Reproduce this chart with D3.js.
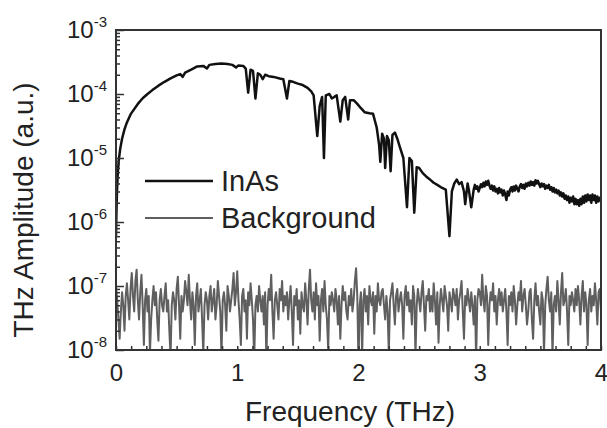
<!DOCTYPE html>
<html>
<head>
<meta charset="utf-8">
<script src="https://cdn.jsdelivr.net/npm/d3@7"></script>
<style>
  body { margin: 0; background: #fff; }
  svg { display: block; font-family: "Liberation Sans", Arial, sans-serif; }
</style>
</head>
<body>
<svg id="chart" width="607" height="428"></svg>
<script>
// InAs spectrum, 0 - 2.93 THz (frequency in THz, amplitude in a.u.)
const inasFreq = [
  0.000, 0.004, 0.008, 0.015, 0.025, 0.035, 0.05, 0.07, 0.09, 0.12,
  0.15, 0.18, 0.22, 0.26, 0.30, 0.35, 0.40, 0.45, 0.50, 0.53,
  0.55, 0.57, 0.62, 0.67, 0.72, 0.75, 0.77, 0.82, 0.87, 0.92,
  0.96, 0.99, 1.01, 1.05, 1.07, 1.09, 1.11, 1.13, 1.15, 1.17,
  1.19, 1.21, 1.23, 1.26, 1.30, 1.35, 1.38, 1.41, 1.43, 1.46,
  1.50, 1.54, 1.58, 1.61, 1.63, 1.66, 1.68, 1.70, 1.715, 1.73,
  1.76, 1.78, 1.80, 1.82, 1.85, 1.87, 1.89, 1.915, 1.93, 1.96,
  1.99, 2.02, 2.05, 2.09, 2.12, 2.15, 2.17, 2.18, 2.195, 2.21,
  2.22, 2.235, 2.25, 2.265, 2.28, 2.30, 2.32, 2.34, 2.37, 2.40,
  2.42, 2.44, 2.46, 2.48, 2.50, 2.53, 2.56, 2.59, 2.62, 2.65,
  2.69, 2.72, 2.75, 2.77, 2.79, 2.81, 2.83, 2.85, 2.87, 2.88,
  2.90, 2.91, 2.93
];
const inasAmp = [
  6e-7, 1.5e-6, 3e-6, 6e-6, 1.0e-5, 1.4e-5, 2.0e-5, 2.8e-5, 3.6e-5, 4.8e-5,
  5.8e-5, 7.0e-5, 8.6e-5, 1.0e-4, 1.15e-4, 1.35e-4, 1.55e-4, 1.75e-4, 1.95e-4, 2.05e-4,
  1.85e-4, 2.15e-4, 2.4e-4, 2.7e-4, 2.75e-4, 2.5e-4, 2.85e-4, 2.95e-4, 3.0e-4, 2.95e-4,
  2.85e-4, 2.6e-4, 2.8e-4, 2.75e-4, 2.5e-4, 1.05e-4, 2.4e-4, 2.3e-4, 8.5e-5, 2.1e-4,
  2.0e-4, 1.7e-4, 2.0e-4, 1.9e-4, 1.85e-4, 1.75e-4, 1.7e-4, 8.5e-5, 1.6e-4, 1.55e-4,
  1.45e-4, 1.38e-4, 1.25e-4, 1.1e-4, 9.5e-5, 2.2e-5, 6.5e-5, 9.0e-5, 1.0e-5, 9.5e-5,
  1.0e-4, 8.5e-5, 9.0e-5, 9.5e-5, 3.7e-5, 8.0e-5, 9.0e-5, 4.0e-5, 8.0e-5, 8.0e-5,
  7.0e-5, 6.0e-5, 5.2e-5, 5.0e-5, 4.9e-5, 3.0e-5, 1.6e-5, 8.7e-6, 2.4e-5, 2.0e-5,
  7.0e-6, 2.2e-5, 1.9e-5, 6.2e-6, 2.3e-5, 2.5e-5, 2.0e-5, 1.5e-5, 1.0e-5, 1.7e-6,
  1.0e-5, 9.0e-6, 1.4e-6, 7.2e-6, 7.0e-6, 5.8e-6, 5.1e-6, 4.6e-6, 4.1e-6, 3.8e-6,
  3.4e-6, 3.2e-6, 6.0e-7, 3.0e-6, 4.0e-6, 4.6e-6, 3.9e-6, 4.2e-6, 3.0e-6, 1.9e-6,
  4.0e-6, 3.2e-6, 1.7e-6
];

// InAs tail, every 0.01 THz from 2.95 to 4.00 THz (amplitude in units of 1e-6)
const inasTailStart = 2.95;
const inasTailStep = 0.01;
const inasTailUnit = 1e-6;
const inasTail = [
  3.2, 3.8, 3.3, 3.6, 3.0, 3.4, 3.9, 3.5, 4.1, 3.6,
  4.3, 3.8, 4.4, 3.7, 3.3, 3.7, 3.1, 3.6, 3.0, 3.3,
  2.8, 3.4, 2.9, 3.2, 2.6, 3.1, 2.7, 2.2, 3.0, 2.6,
  3.2, 3.5, 3.0, 3.6, 3.1, 3.7, 3.3, 3.0, 3.6, 3.9,
  3.4, 3.8, 3.3, 4.0, 3.6, 4.1, 3.7, 4.3, 3.8, 4.2,
  3.7, 4.5, 4.0, 4.4, 3.9, 3.5, 4.0, 3.6, 3.9, 3.3,
  3.7, 3.4, 3.8, 3.2, 3.5, 3.0, 3.4, 2.9, 3.2, 2.8,
  3.1, 2.6, 2.9, 2.5, 2.8, 2.3, 2.6, 2.2, 2.5, 2.0,
  2.4, 2.1, 2.5, 1.9, 2.3, 1.9, 2.2, 1.8, 2.3, 1.9,
  2.5, 2.0, 2.6, 2.1, 2.7, 2.2, 2.6, 2.0, 2.7, 2.2,
  2.6, 2.0, 2.5, 2.1, 2.4, 2.2
];

// Background spectrum, every 0.01 THz from 0 to 4 THz (amplitude in units of 1e-8)
const bgStep = 0.01;
const bgUnit = 1e-8;
const bgAmp = [
  10, 6, 3, 1.5, 4, 8, 5, 2, 7, 11, 6, 3, 9, 16, 7, 4, 12, 18, 6, 3,
  8, 15, 5, 1.2, 6, 9, 4, 7, 0.9, 3, 6, 10, 5, 8, 3, 1.4, 6, 9, 5, 4,
  7, 11, 4, 6, 2, 0.8, 5, 8, 6, 3, 9, 14, 5, 1.5, 7, 4, 6, 12, 8, 5,
  15, 6, 3, 8, 5, 1.2, 7, 11, 4, 6, 9, 3, 0.9, 5, 8, 6, 3, 7, 10, 4,
  6, 9, 3, 5, 12, 7, 4, 0.8, 6, 8, 5, 2, 10, 7, 4, 6, 9, 16, 5, 8,
  17, 6, 3, 1.2, 7, 9, 4, 6, 1.5, 8, 5, 11, 6, 3, 0.7, 5, 7, 4, 10, 6,
  4, 7, 2.5, 8, 0.7, 5, 9, 6, 15, 4, 1.5, 6, 8, 5, 3, 9, 6, 12, 4, 7,
  5, 8, 3, 6, 10, 4, 1.2, 7, 5, 9, 3, 6, 1.8, 8, 5, 4, 11, 6, 2.5, 9,
  18, 6, 4, 8, 3, 11, 5, 7, 1.4, 6, 9, 4, 12, 5, 3, 1.0, 7, 5, 8, 6,
  4, 9, 6, 2.5, 7, 1.5, 5, 10, 6, 8, 4, 3, 7, 5, 9, 4, 6, 12, 19, 7,
  0.6, 5, 8, 0.8, 6, 9, 4, 7, 2.5, 10, 6, 5, 8, 1.8, 7, 4, 11, 6, 5, 8,
  9, 5, 3, 7, 4, 0.9, 6, 8, 11, 5, 2.5, 7, 9, 4, 6, 8, 5, 1.5, 7, 10,
  5, 8, 4, 6, 2.5, 10, 7, 0.8, 5, 9, 6, 4, 8, 12, 5, 2, 7, 6, 9, 4,
  7, 4, 11, 6, 2.5, 8, 1.3, 5, 9, 6, 4, 10, 7, 5, 2, 8, 6, 4, 9, 7,
  5, 9, 3, 6, 8, 12, 4, 1.5, 7, 5, 9, 6, 4, 8, 5, 2.5, 7, 0.7, 6, 9,
  8, 5, 15, 6, 4, 10, 7, 1.2, 5, 8, 6, 11, 4, 7, 2.5, 6, 9, 5, 8, 4,
  6, 9, 4, 1.2, 7, 5, 8, 4, 10, 6, 2.5, 5, 8, 6, 12, 4, 7, 9, 5, 2.5,
  4, 8, 9, 3, 1.5, 6, 11, 5, 7, 4, 2.5, 8, 6, 0.9, 5, 9, 14, 6, 4, 8,
  0.8, 5, 7, 4, 12, 6, 2.5, 8, 16, 5, 6, 9, 4, 1.2, 7, 5, 8, 6, 4, 9,
  5, 10, 6, 2.5, 7, 12, 4, 8, 5, 1.2, 6, 9, 4, 7, 5, 11, 6, 2.5, 8, 9,
  4
];

// axis ticks
const xTicks = [0, 1, 2, 3, 4];
const xMinorStep = 0.125;
const yExponents = [-8, -7, -6, -5, -4, -3];

const legendItems = [
  { name: "InAs", color: "#111" },
  { name: "Background", color: "#5f5f5f" }
];

const svg = d3.select("#chart"),
      margin = {top: 30, right: 6, bottom: 78, left: 116},
      width = +svg.attr("width") - margin.left - margin.right,
      height = +svg.attr("height") - margin.top - margin.bottom,
      g = svg.append("g").attr("transform", "translate(" + margin.left + "," + margin.top + ")");

const x = d3.scaleLinear().domain([0, 4]).range([0, width]);
const y = d3.scaleLog().domain([1e-8, 1e-3]).range([height, 0]);

// clip so the deep dips stop at the frame
svg.append("defs").append("clipPath").attr("id", "plotClip")
  .append("rect").attr("width", width).attr("height", height);

const line = d3.line()
    .x(function(d) { return x(d[0]); })
    .y(function(d) { return y(d[1]); });

const bgData = bgAmp.map(function(v, i) { return [i * bgStep, v * bgUnit]; });
const inasData = inasFreq.map(function(f, i) { return [f, inasAmp[i]]; })
    .concat(inasTail.map(function(v, i) { return [inasTailStart + i * inasTailStep, v * inasTailUnit]; }));

const plot = g.append("g").attr("clip-path", "url(#plotClip)");

plot.append("path")
    .datum(bgData)
    .attr("fill", "none")
    .attr("stroke", legendItems[1].color)
    .attr("stroke-width", 2)
    .attr("stroke-linejoin", "round")
    .attr("d", line);

plot.append("path")
    .datum(inasData)
    .attr("fill", "none")
    .attr("stroke", legendItems[0].color)
    .attr("stroke-width", 2.5)
    .attr("stroke-linejoin", "round")
    .attr("d", line);

// y minor ticks (2..9 in every decade)
const yMinor = [];
yExponents.slice(0, -1).forEach(function(e) {
  for (let k = 2; k <= 9; k++) yMinor.push(k * Math.pow(10, e));
});

g.append("g")
    .call(d3.axisLeft(y).tickValues(yMinor).tickSize(-4).tickFormat(""))
    .call(function(a) { a.select(".domain").remove(); })
    .selectAll("line").attr("stroke", "#333").attr("stroke-width", 1.5);

g.append("g")
    .call(d3.axisLeft(y).tickValues(yExponents.map(function(e) { return Math.pow(10, e); })).tickSize(-8).tickFormat(""))
    .call(function(a) { a.select(".domain").remove(); })
    .selectAll("line").attr("stroke", "#333").attr("stroke-width", 1.5);

// y tick labels 10^n
const yLab = g.append("g").attr("font-size", 24).attr("fill", "#222");
yExponents.forEach(function(e) {
  const t = yLab.append("text")
      .attr("x", -9)
      .attr("y", y(Math.pow(10, e)) + 8)
      .attr("text-anchor", "end");
  t.append("tspan").text("10");
  t.append("tspan").attr("dy", -11).attr("font-size", 15).text(String(e));
});

// x ticks
const xMinor = d3.range(0, 4 + 1e-9, xMinorStep);
g.append("g")
    .attr("transform", "translate(0," + height + ")")
    .call(d3.axisBottom(x).tickValues(xMinor).tickSize(-4).tickFormat(""))
    .call(function(a) { a.select(".domain").remove(); })
    .selectAll("line").attr("stroke", "#333").attr("stroke-width", 1.5);

g.append("g")
    .attr("transform", "translate(0," + height + ")")
    .call(d3.axisBottom(x).tickValues(xTicks).tickSize(0).tickPadding(14).tickFormat(d3.format("d")))
    .call(function(a) { a.select(".domain").remove(); })
    .selectAll("text")
      .attr("font-size", 24)
      .attr("fill", "#222")
      .attr("font-family", "Liberation Sans, Arial, sans-serif");

// frame
g.append("rect")
    .attr("width", width)
    .attr("height", height)
    .attr("fill", "none")
    .attr("stroke", "#333")
    .attr("stroke-width", 2);

// axis titles
svg.append("text")
    .attr("x", 350)
    .attr("y", 421)
    .attr("text-anchor", "middle")
    .attr("font-size", 28)
    .attr("fill", "#222")
    .text("Frequency (THz)");

svg.append("text")
    .attr("transform", "translate(33,210) rotate(-90)")
    .attr("text-anchor", "middle")
    .attr("font-size", 28)
    .attr("fill", "#222")
    .text("THz Amplitude (a.u.)");

// legend
const legend = svg.append("g");
legendItems.forEach(function(d, i) {
  const ly = 181 + i * 37;
  legend.append("line")
      .attr("x1", 145).attr("x2", 213)
      .attr("y1", ly).attr("y2", ly)
      .attr("stroke", d.color)
      .attr("stroke-width", i === 0 ? 2.5 : 2);
  legend.append("text")
      .attr("x", 221)
      .attr("y", ly + 10)
      .attr("font-size", 29)
      .attr("fill", "#222")
      .text(d.name);
});
</script>
</body>
</html>
